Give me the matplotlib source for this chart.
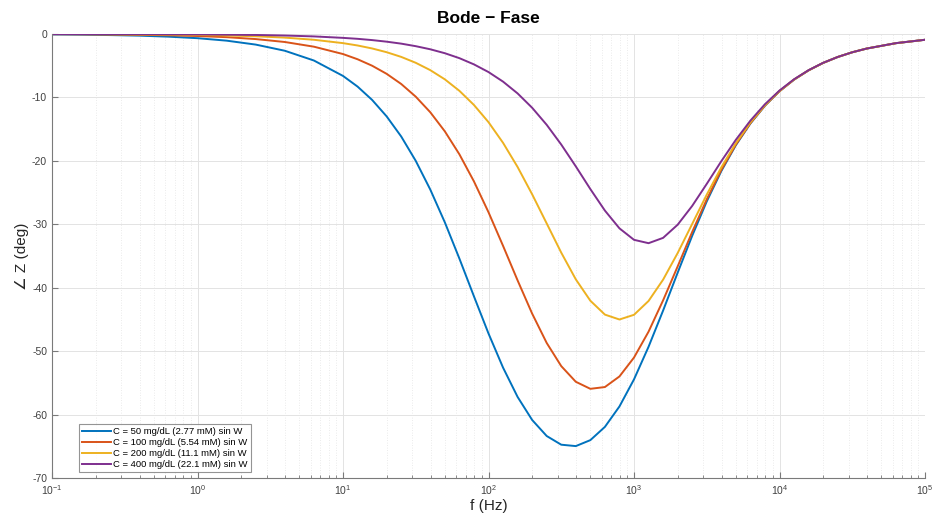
import matplotlib
matplotlib.use("Agg")
import matplotlib.pyplot as plt
from matplotlib.ticker import LogLocator, NullFormatter

plt.rcParams['font.family'] = ['Liberation Sans', 'DejaVu Sans']
plt.rcParams['mathtext.fontset'] = 'custom'
plt.rcParams['mathtext.rm'] = 'Liberation Sans'
plt.rcParams['mathtext.it'] = 'Liberation Sans'
plt.rcParams['axes.unicode_minus'] = False

freq = [0.1, 0.1585, 0.2512, 0.3981, 0.631, 1, 1.585, 2.512, 3.981, 6.31,
        10, 12.59, 15.85, 19.95, 25.12, 31.62, 39.81, 50.12, 63.1, 79.43,
        100, 125.9, 158.5, 199.5, 251.2, 316.2, 398.1, 501.2, 631, 794.3,
        1000, 1259, 1585, 1995, 2512, 3162, 3981, 5012, 6310, 7943,
        10000, 12589, 15849, 19953, 25119, 31623, 39811, 63096, 100000]

phase_50 = [-0.07, -0.11, -0.17, -0.26, -0.42, -0.66, -1.05, -1.67, -2.64, -4.18,
            -6.61, -8.29, -10.39, -12.99, -16.16, -20.00, -24.53, -29.70, -35.41, -41.36,
            -47.22, -52.60, -57.22, -60.85, -63.38, -64.75, -64.97, -64.03, -61.94, -58.72,
            -54.45, -49.31, -43.60, -37.64, -31.81, -26.40, -21.62, -17.53, -14.11, -11.31,
            -9.03, -7.20, -5.73, -4.56, -3.63, -2.88, -2.29, -1.45, -0.91]
phase_100 = [-0.03, -0.05, -0.08, -0.13, -0.20, -0.32, -0.50, -0.80, -1.26, -2.00,
             -3.16, -3.98, -5.00, -6.28, -7.88, -9.88, -12.34, -15.35, -18.97, -23.24,
             -28.10, -33.40, -38.85, -44.08, -48.71, -52.36, -54.83, -55.94, -55.66, -53.99,
             -51.01, -46.93, -41.99, -36.65, -31.21, -26.07, -21.44, -17.43, -14.06, -11.28,
             -9.02, -7.19, -5.73, -4.56, -3.63, -2.88, -2.29, -1.45, -0.91]
phase_200 = [-0.01, -0.02, -0.04, -0.06, -0.09, -0.14, -0.23, -0.36, -0.57, -0.91,
             -1.44, -1.81, -2.28, -2.87, -3.61, -4.54, -5.70, -7.15, -8.96, -11.19,
             -13.90, -17.16, -20.97, -25.27, -29.87, -34.47, -38.68, -42.05, -44.24, -45.01,
             -44.27, -42.09, -38.73, -34.54, -29.94, -25.33, -21.03, -17.21, -13.94, -11.22,
             -8.99, -7.18, -5.72, -4.55, -3.62, -2.88, -2.29, -1.45, -0.91]
phase_400 = [-0.01, -0.01, -0.02, -0.02, -0.04, -0.06, -0.10, -0.15, -0.24, -0.38,
             -0.61, -0.76, -0.96, -1.21, -1.52, -1.92, -2.41, -3.03, -3.81, -4.79,
             -6.00, -7.51, -9.37, -11.63, -14.32, -17.43, -20.87, -24.45, -27.84, -30.64,
             -32.45, -32.98, -32.14, -30.07, -27.10, -23.63, -20.06, -16.68, -13.66, -11.07,
             -8.91, -7.14, -5.70, -4.54, -3.62, -2.88, -2.29, -1.44, -0.91]

labels = ["C = 50 mg/dL (2.77 mM) sin W",
          "C = 100 mg/dL (5.54 mM) sin W",
          "C = 200 mg/dL (11.1 mM) sin W",
          "C = 400 mg/dL (22.1 mM) sin W"]
colors = ["#0072BD", "#D95319", "#EDB120", "#7E2F8E"]
yticks = [0, -10, -20, -30, -40, -50, -60, -70]

fig = plt.figure(figsize=(9.35, 5.18), dpi=100)
ax = fig.add_axes([52/935, 1-478/518, (925-52)/935, (478-34)/518])

for ph, lab, c in zip([phase_50, phase_100, phase_200, phase_400], labels, colors):
    ax.semilogx(freq, ph, color=c, lw=1.4, label=lab)

ax.set_xlim(0.1, 1e5)
ax.set_ylim(-70, 0)
ax.set_yticks(yticks)
ax.xaxis.set_major_locator(LogLocator(base=10, numticks=10))
ax.xaxis.set_minor_locator(LogLocator(base=10, subs=[2,3,4,5,6,7,8,9], numticks=20))
ax.xaxis.set_minor_formatter(NullFormatter())

ax.grid(True, which='major', color='#e3e3e3', lw=0.7, ls='-')
ax.grid(True, which='minor', axis='x', color='#e4e4e4', lw=0.6, ls=(0, (1, 2)))
ax.set_axisbelow(True)

for s in ['top', 'right']:
    ax.spines[s].set_visible(False)
for s in ['left', 'bottom']:
    ax.spines[s].set_color('#7a7a7a')
    ax.spines[s].set_linewidth(0.8)
ax.tick_params(which='both', direction='in', colors='#7a7a7a', labelcolor='#404040', labelsize=7.5)
ax.tick_params(which='major', length=4)
ax.tick_params(which='minor', length=2.5)

ax.set_xlabel("f (Hz)", fontsize=11, color='#262626', labelpad=2)
ax.set_ylabel("\u2220 Z (deg)", fontsize=11, color='#262626', labelpad=2)
ax.set_title("Bode \u2212 Fase", fontsize=12.5, fontweight='bold', pad=8)

leg = ax.legend(loc='lower left', bbox_to_anchor=(0.031, 0.013), fontsize=6.8,
                frameon=True, fancybox=False, edgecolor='#7a7a7a',
                handlelength=3.0, handletextpad=0.25, borderpad=0.35, labelspacing=0.2,
                borderaxespad=0)
leg.get_frame().set_linewidth(0.8)

fig.savefig("out.png", dpi=100)
